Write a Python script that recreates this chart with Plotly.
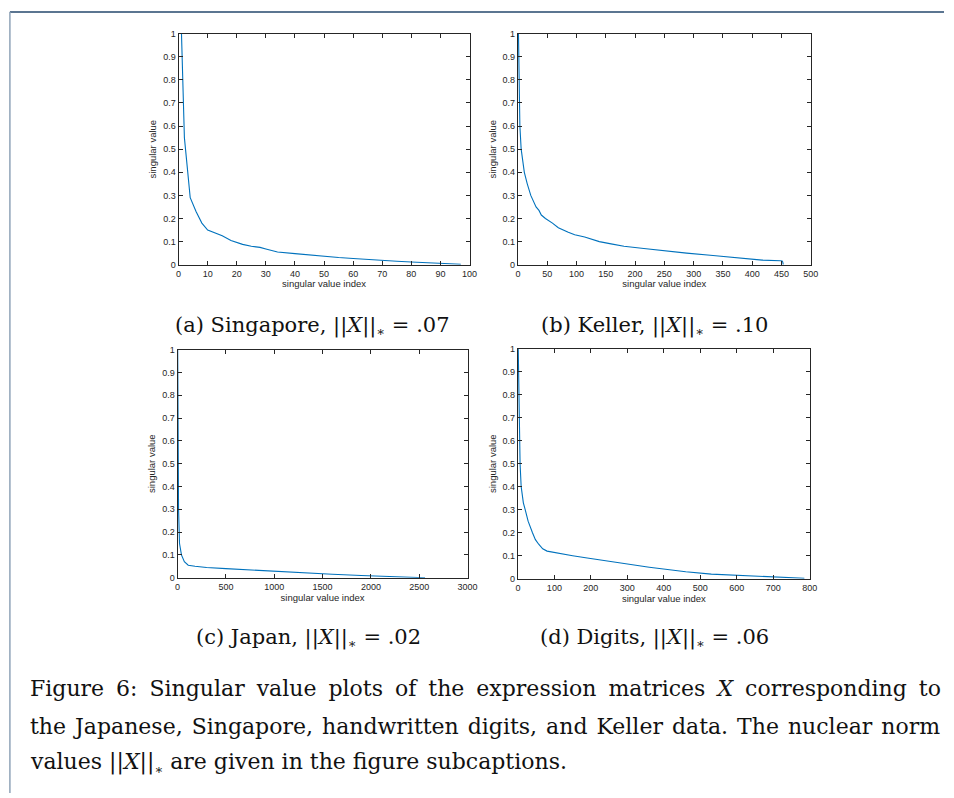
import plotly.graph_objects as go

W, H = 954, 798

# ---------------- data ----------------
sing_x = [1, 2, 3, 4, 6, 8, 10, 12, 15, 18, 20, 22, 25, 28, 30, 34, 40, 45, 50, 55, 60, 65, 70, 75, 80, 85, 90, 94, 97]
sing_y = [1.0, 0.55, 0.42, 0.29, 0.23, 0.18, 0.15, 0.14, 0.125, 0.105, 0.095, 0.088, 0.08, 0.075, 0.068, 0.055, 0.048, 0.042, 0.035, 0.031, 0.027, 0.022, 0.018, 0.015, 0.012, 0.009, 0.006, 0.004, 0.002]

kel_x = [1, 2, 3.4, 5.6, 8, 11, 16, 22, 31, 36, 40, 47, 59, 69, 86, 97, 114, 139, 159, 181, 215, 249, 288, 333, 372, 417, 448, 451, 452, 453]
kel_y = [1.0, 0.8, 0.6, 0.5, 0.45, 0.4, 0.35, 0.3, 0.25, 0.235, 0.215, 0.2, 0.18, 0.16, 0.14, 0.13, 0.12, 0.1, 0.09, 0.08, 0.07, 0.06, 0.05, 0.04, 0.03, 0.02, 0.017, 0.016, 0.012, 0.0]

jap_x = [1, 3, 6, 10, 20, 40, 70, 110, 180, 300, 500, 700, 900, 1100, 1400, 1600, 1900, 2100, 2300, 2500, 2560]
jap_y = [1.0, 0.7, 0.45, 0.3, 0.15, 0.1, 0.07, 0.055, 0.05, 0.045, 0.04, 0.035, 0.03, 0.025, 0.02, 0.015, 0.01, 0.006, 0.003, 0.001, 0.0]

dig_x = [1, 3, 6, 9, 15, 20, 28, 40, 48, 57, 68, 80, 110, 150, 190, 230, 270, 320, 360, 410, 460, 530, 590, 650, 720, 785]
dig_y = [1.0, 0.7, 0.5, 0.4, 0.33, 0.3, 0.25, 0.2, 0.17, 0.15, 0.13, 0.12, 0.11, 0.1, 0.09, 0.08, 0.07, 0.06, 0.05, 0.04, 0.03, 0.02, 0.015, 0.01, 0.005, 0.002]

y_ticks = [0, 0.1, 0.2, 0.3, 0.4, 0.5, 0.6, 0.7, 0.8, 0.9, 1]
y_labels = ["0", "0.1", "0.2", "0.3", "0.4", "0.5", "0.6", "0.7", "0.8", "0.9", "1"]
x_ticks_a = list(range(0, 101, 10))
x_ticks_b = list(range(0, 501, 50))
x_ticks_c = list(range(0, 3001, 500))
x_ticks_d = list(range(0, 801, 100))

NORM = "||<i>X</i>||<sub><span style='font-size:13px'>∗</span></sub>"
captions = [
    "(a) Singapore, " + NORM + " = .07",
    "(b) Keller, " + NORM + " = .10",
    "(c) Japan, " + NORM + " = .02",
    "(d) Digits, " + NORM + " = .06",
]
fig_caption = [
    "Figure 6: Singular value plots of the expression matrices <i>X</i> corresponding to",
    "the Japanese, Singapore, handwritten digits, and Keller data. The nuclear norm",
    "values " + NORM + " are given in the figure subcaptions.",
]
caption_wordspacing = [5.0, 2.0, 0]

# ---------------- layout geometry (pixels) ----------------
panels = [
    (sing_x, sing_y, x_ticks_a, 100, 178, 473, 29, 263),
    (kel_x, kel_y, x_ticks_b, 500, 522, 819, 29, 263),
    (jap_x, jap_y, x_ticks_c, 3000, 177, 471, 349, 580),
    (dig_x, dig_y, x_ticks_d, 800, 522, 818, 348, 581),
]
cap_pos = [(314, 325), (660, 325), (310, 641), (660, 641)]

fx = lambda px: px / W
fy = lambda py: 1 - py / H

fig = go.Figure()
axis_font = dict(family="Liberation Sans, Arial, sans-serif", size=9, color="#262626")
title_font = dict(family="Liberation Sans, Arial, sans-serif", size=9.5, color="#262626")
SERIF = "DejaVu Serif, serif"

for i, (xs, ys, xt, xmax, l, r, t, b) in enumerate(panels):
    n = i + 1
    xa = "x" if n == 1 else f"x{n}"
    ya = "y" if n == 1 else f"y{n}"
    fig.add_trace(go.Scatter(x=xs, y=ys, mode="lines", xaxis=xa, yaxis=ya,
                             line=dict(color="#0072BD", width=1.1), showlegend=False,
                             hoverinfo="skip"))
    common = dict(showgrid=False, zeroline=False, showline=True, linecolor="#262626", linewidth=1,
                  mirror="ticks", ticks="inside", ticklen=4, tickcolor="#262626", tickwidth=1,
                  tickfont=axis_font)
    fig.update_layout(**{
        ("xaxis" if n == 1 else f"xaxis{n}"): dict(
            domain=[fx(l), fx(r)], range=[0, xmax], tickvals=xt, anchor=ya,
            title=dict(text="singular value index", font=title_font, standoff=2), **common),
        ("yaxis" if n == 1 else f"yaxis{n}"): dict(
            domain=[fy(b), fy(t)], range=[0, 1], tickvals=y_ticks, ticktext=y_labels, anchor=xa,
            title=dict(text="singular value", font=title_font, standoff=4), **common),
    })

annotations = []
for (cx, cy), txt in zip(cap_pos, captions):
    annotations.append(dict(x=fx(cx), y=fy(cy), xref="paper", yref="paper", text=txt,
                            showarrow=False, xanchor="center", yanchor="middle",
                            font=dict(family=SERIF, size=21, color="#111111")))
for k, line in enumerate(fig_caption):
    ws = caption_wordspacing[k]
    txt = f"<span style='word-spacing:{ws}px'>{line}</span>" if ws else line
    annotations.append(dict(x=fx(25), y=fy([692, 731, 768][k]), xref="paper", yref="paper", text=txt,
                            showarrow=False, xanchor="left", yanchor="middle",
                            font=dict(family=SERIF, size=22, color="#111111")))

fig.update_layout(
    width=W, height=H, margin=dict(l=0, r=0, t=0, b=0),
    paper_bgcolor="white", plot_bgcolor="white",
    annotations=annotations,
    shapes=[
        dict(type="line", xref="paper", yref="paper", x0=fx(7), x1=1, y0=fy(7), y1=fy(7),
             line=dict(color="#5b7591", width=2)),
        dict(type="line", xref="paper", yref="paper", x0=fx(7), x1=fx(7), y0=fy(7), y1=0,
             line=dict(color="#8fa3b8", width=1.5)),
    ],
)

post = ("document.body.style.margin='0';document.body.style.overflow='hidden';"
        "var d=document.getElementById('{plot_id}');d.style.position='fixed';d.style.left='0px';d.style.top='0px';")
fig.write_html("out.html", config={"displayModeBar": False}, post_script=post)
